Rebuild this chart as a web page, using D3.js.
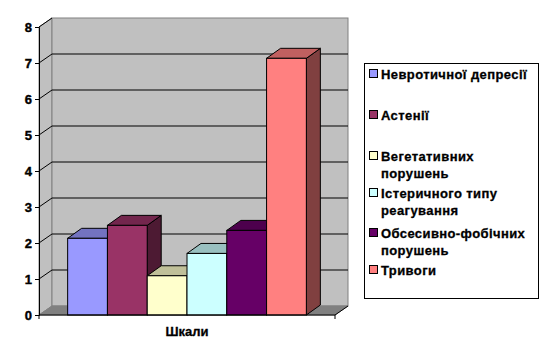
<!DOCTYPE html>
<html><head><meta charset="utf-8">
<script src="https://cdn.jsdelivr.net/npm/d3@7"></script>
<style>body{margin:0;background:#fff}svg{display:block}text{font-family:"Liberation Sans",Arial,sans-serif;font-weight:bold}</style>
</head><body><svg id="c" width="540" height="360"></svg>
<script>
const categories = ["Шкали"];
const seriesNames = ["Невротичної депресії","Астенії","Вегетативних порушень","Істеричного типу реагування","Обсесивно-фобічних порушень","Тривоги"];
const legendLines = [["Невротичної депресії"],["Астенії"],["Вегетативних","порушень"],["Істеричного типу","реагування"],["Обсесивно-фобічних","порушень"],["Тривоги"]];
const values = [2.13, 2.49, 1.09, 1.71, 2.35, 7.13];
const yTicks = [0,1,2,3,4,5,6,7,8];
const fronts = ["#9999FF","#993366","#FFFFCC","#CCFFFF","#660066","#FF8080"];
const tops = ["#7373C0","#73264D","#C0C099","#99C0C0","#4D004D","#C06060"];
const sides = ["#4D4D80","#4D1A33","#808066","#668080","#330033","#804040"];

const svg = d3.select("#c");
const L = 39, R = 335, B = 315, T = 27;
const wdx = 13, wdy = -9;   // wall depth
const bdx = 14, bdy = -10;  // bar depth
const y = d3.scaleLinear().domain([0,8]).range([B,T]);
const x0 = d3.scaleBand().domain(categories).range([L,R]).paddingInner(0).paddingOuter(0.12);
const x1 = d3.scaleBand().domain(seriesNames).range([0,x0.bandwidth()]);

// left wall
svg.append("polygon").attr("points",[[L,T],[L+wdx,T+wdy],[L+wdx,B+wdy],[L,B]].join(" "))
  .attr("fill","#C0C0C0").attr("stroke","#808080");
// back wall
svg.append("rect").attr("x",L+wdx).attr("y",T+wdy).attr("width",R-L).attr("height",B-T)
  .attr("fill","#C0C0C0").attr("stroke","#808080");
// gridlines
yTicks.filter(v=>v>0&&v<8).forEach(v=>{
  svg.append("line").attr("x1",L+wdx).attr("x2",R+wdx).attr("y1",y(v)+wdy).attr("y2",y(v)+wdy).attr("stroke","#000");
});
yTicks.filter(v=>v>0).forEach(v=>{
  svg.append("line").attr("x1",L).attr("x2",L+wdx).attr("y1",y(v)).attr("y2",y(v)+wdy).attr("stroke","#000");
});
// floor
svg.append("polygon").attr("points",[[L,B],[L+wdx,B+wdy],[R+wdx,B+wdy],[R,B]].join(" "))
  .attr("fill","#808080").attr("stroke","#808080");

// bars
const g = svg.append("g");
seriesNames.forEach((s,i)=>{
  const xa = x0(categories[0]) + x1(s), xb = xa + x1.bandwidth();
  const yt = y(values[i]), yb = y(0);
  g.append("polygon").attr("points",[[xb,yt],[xb+bdx,yt+bdy],[xb+bdx,yb+bdy],[xb,yb]].join(" "))
    .attr("fill",sides[i]).attr("stroke","#000").attr("stroke-linejoin","round");
  g.append("polygon").attr("points",[[xa,yt],[xa+bdx,yt+bdy],[xb+bdx,yt+bdy],[xb,yt]].join(" "))
    .attr("fill",tops[i]).attr("stroke","#000").attr("stroke-linejoin","round");
  g.append("rect").attr("x",xa).attr("y",yt).attr("width",xb-xa).attr("height",yb-yt)
    .attr("fill",fronts[i]).attr("stroke","#000");
});

// y axis
const yAxis = d3.axisLeft(y).tickValues(yTicks).tickSize(4).tickPadding(3).tickFormat(d3.format("d"));
const ya = svg.append("g").attr("transform",`translate(${L},0)`).call(yAxis);
ya.selectAll("path,line").attr("stroke","#000");
ya.selectAll("text").attr("font-size","13px").attr("font-weight","bold").attr("fill","#000")
  .attr("stroke","#000").attr("stroke-width",0.4)
  .style("font-family","'Liberation Sans',Arial,sans-serif");
// x axis
svg.append("line").attr("x1",L).attr("x2",R).attr("y1",B).attr("y2",B).attr("stroke","#000");
[L,R].forEach(xx=>svg.append("line").attr("x1",xx).attr("x2",xx).attr("y1",B).attr("y2",B+4).attr("stroke","#000"));
svg.append("line").attr("x1",R).attr("x2",R+wdx).attr("y1",B).attr("y2",B+wdy).attr("stroke","#000");
svg.append("text").attr("x",(L+R)/2).attr("y",B+21).attr("text-anchor","middle").attr("font-size","13px")
  .attr("stroke","#000").attr("stroke-width",0.3).text(categories[0]);

// legend
const lg = svg.append("g");
lg.append("rect").attr("x",364.5).attr("y",63.5).attr("width",174).attr("height",235).attr("fill","#fff").attr("stroke","#000");
const rowY = [74,115,156,193,233,270];
legendLines.forEach((lines,i)=>{
  lg.append("rect").attr("x",369.5).attr("y",rowY[i]-4.5).attr("width",8).attr("height",8).attr("fill",fronts[i]).attr("stroke","#000");
  const t = lg.append("text").attr("x",381).attr("y",rowY[i]+5).attr("font-size","13px")
    .attr("letter-spacing","0.4px").attr("stroke","#000").attr("stroke-width",0.3);
  lines.forEach((ln,j)=>t.append("tspan").attr("x",381).attr("dy",j?17:0).text(ln));
});
</script></body></html>
